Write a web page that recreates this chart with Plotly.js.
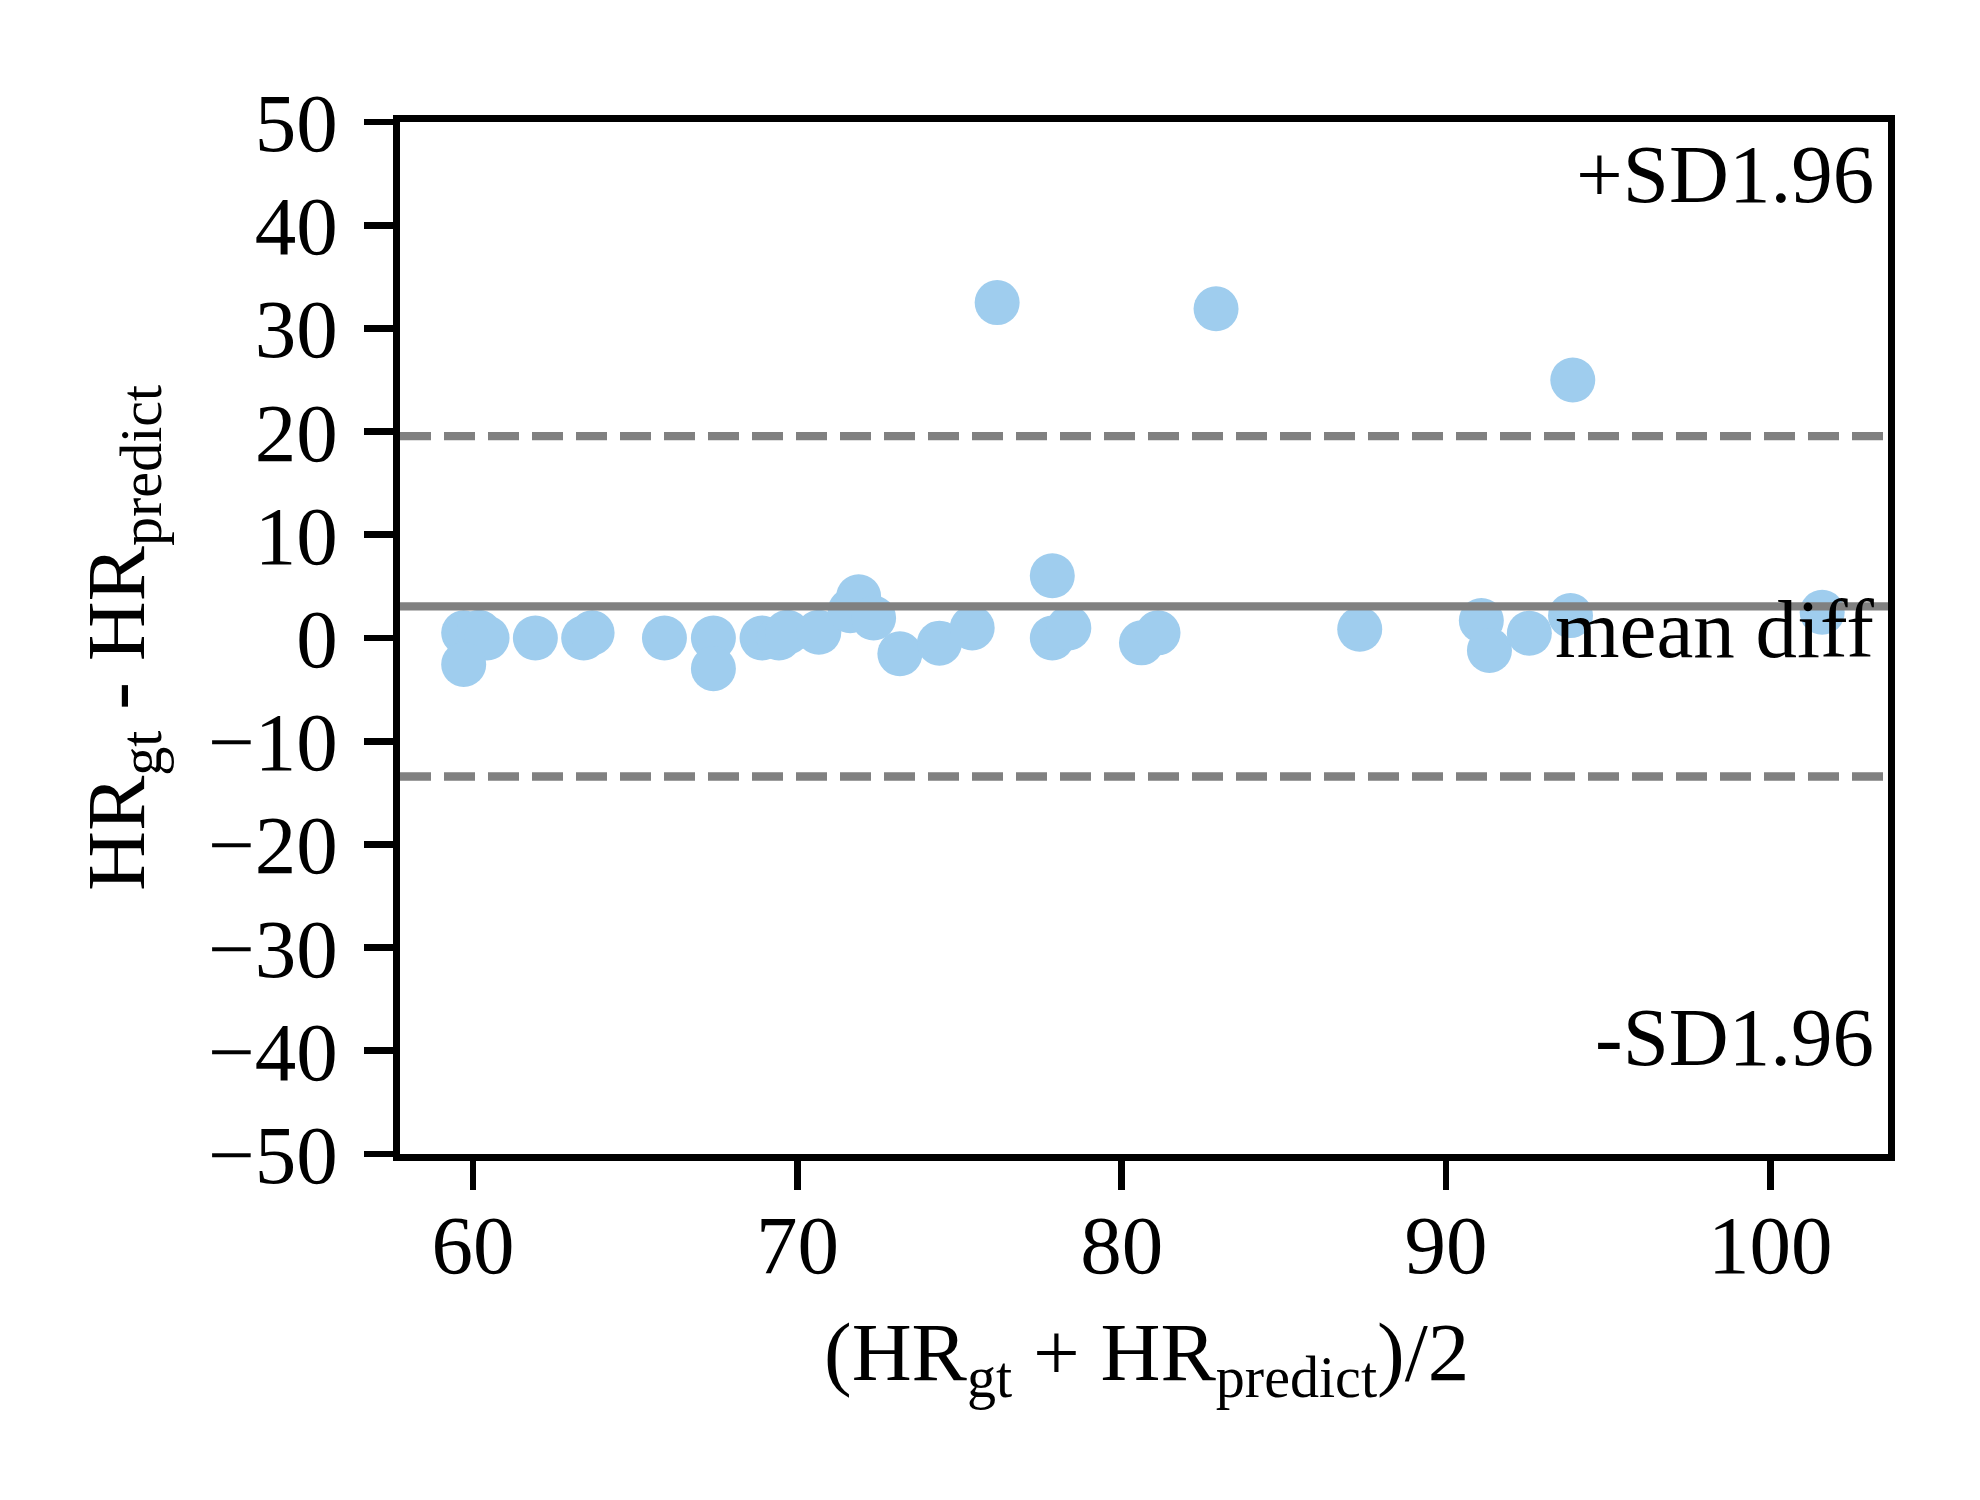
<!DOCTYPE html>
<html>
<head>
<meta charset="utf-8">
<script src="https://cdn.plot.ly/plotly-3.0.1.min.js"></script>
<style>html,body{margin:0;padding:0;background:#fff;}</style>
</head>
<body>
<div id="chart" style="width:1980px;height:1500px;"></div>
<script>
// Bland-Altman data
var meanHR = [59.71, 60.18, 60.43, 59.71, 61.92, 63.41, 63.67, 65.90, 67.41, 67.41,
              68.91, 69.43, 69.69, 70.66, 71.63, 71.89, 72.35, 73.16, 74.38, 75.39,
              76.16, 77.86, 77.86, 78.37, 80.61, 81.12, 82.91, 87.34, 91.09, 91.34,
              92.57, 93.84, 93.91, 101.6];
var diffHR = [0.5, 0.56, 0.0, -2.56, 0.0, 0.0, 0.5, 0.0, 0.0, -2.97,
              0.0, 0.0, 0.56, 0.56, 2.65, 4.0, 1.94, -1.53, -0.5, 0.98,
              32.5, 6.03, 0.0, 0.98, -0.47, 0.5, 31.9, 0.85, 1.69, -1.2,
              0.46, 2.17, 25.0, 2.49];
var meanDiff = 3.07;
var upperLimit = 19.56;
var lowerLimit = -13.42;
var xTickVals = [60, 70, 80, 90, 100];
var yTickVals = [-50, -40, -30, -20, -10, 0, 10, 20, 30, 40, 50];

var FONT = 'Liberation Serif, Times New Roman, Times, serif';
var FS = 83;
var LW = 6.7;

var traces = [{
  type: 'scatter',
  mode: 'markers',
  x: meanHR,
  y: diffHR,
  marker: {size: 45, color: '#9fcdee', line: {width: 0}},
  hoverinfo: 'skip',
  showlegend: false
}];

function hline(y, dash) {
  return {type: 'line', xref: 'paper', yref: 'y', x0: 0, x1: 1, y0: y, y1: y,
          layer: 'above', line: {color: '#808080', width: 8.3, dash: dash}};
}

var layout = {
  width: 1980, height: 1500,
  paper_bgcolor: '#ffffff', plot_bgcolor: '#ffffff',
  margin: {l: 400, r: 92, t: 122, b: 346, pad: 0, autoexpand: false},
  font: {family: FONT, size: FS, color: '#000'},
  showlegend: false,
  hovermode: false,
  xaxis: {
    range: [57.746, 103.63],
    tickmode: 'array', tickvals: xTickVals,
    ticks: 'outside', ticklen: 29, tickwidth: LW, tickcolor: '#000',
    ticklabelstandoff: -16,
    showline: true, linewidth: LW, linecolor: '#000', mirror: true,
    showgrid: false, zeroline: false, automargin: false,
    tickfont: {family: FONT, size: FS, color: '#000'}
  },
  yaxis: {
    range: [-50, 50],
    tickmode: 'array', tickvals: yTickVals,
    ticks: 'outside', ticklen: 29, tickwidth: LW, tickcolor: '#000',
    ticklabelstandoff: 10,
    showline: true, linewidth: LW, linecolor: '#000', mirror: true,
    showgrid: false, zeroline: false, automargin: false,
    tickfont: {family: FONT, size: FS, color: '#000'}
  },
  shapes: [
    hline(meanDiff, 'solid'),
    hline(upperLimit, '31px,13px'),
    hline(lowerLimit, '31px,13px')
  ],
  annotations: [
    {text: '+SD1.96', xref: 'paper', yref: 'paper', x: 1, y: 0.9499, xanchor: 'right', yanchor: 'middle',
     xshift: -12, showarrow: false, font: {family: FONT, size: FS, color: '#000'}},
    {text: '-SD1.96', xref: 'paper', yref: 'paper', x: 1, y: 0.1134, xanchor: 'right', yanchor: 'middle',
     xshift: -12, showarrow: false, font: {family: FONT, size: FS, color: '#000'}},
    {text: 'mean diff', xref: 'paper', yref: 'paper', x: 1, y: 0.509, xanchor: 'right', yanchor: 'middle',
     xshift: -12, showarrow: false, font: {family: FONT, size: FS, color: '#000'}},
    {text: '(HR<sub>gt</sub> + HR<sub>predict</sub>)/2', xref: 'paper', yref: 'paper', x: 0.5, y: 0,
     xanchor: 'center', yanchor: 'middle', xshift: 2, yshift: -204, showarrow: false,
     font: {family: FONT, size: FS, color: '#000'}},
    {text: 'HR<sub>gt</sub> - HR<sub>predict</sub>', xref: 'paper', yref: 'paper', x: 0, y: 0.5,
     xanchor: 'center', yanchor: 'middle', xshift: -278, textangle: -90, showarrow: false,
     font: {family: FONT, size: FS, color: '#000'}}
  ]
};

Plotly.newPlot('chart', traces, layout, {staticPlot: true, displayModeBar: false});
</script>
</body>
</html>
